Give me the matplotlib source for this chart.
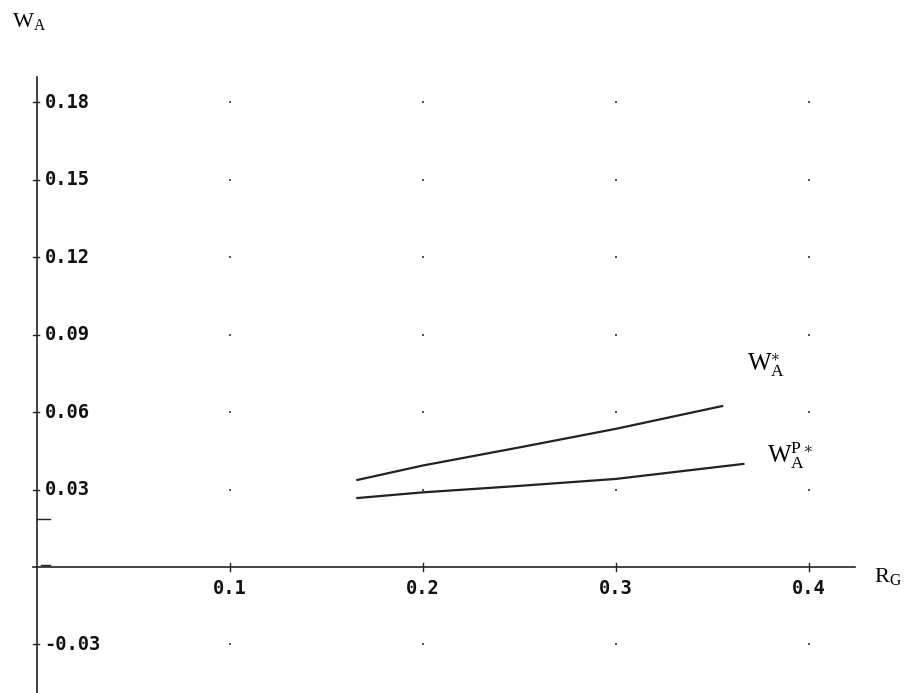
import numpy as np
import matplotlib
matplotlib.use("Agg")
import matplotlib.pyplot as plt

plt.rcParams['mathtext.fontset'] = 'custom'
plt.rcParams['mathtext.rm'] = 'Liberation Serif'
plt.rcParams['mathtext.it'] = 'Liberation Serif'

# data
rg_upper = [0.166, 0.20, 0.25, 0.30, 0.355]
wa_star = [0.0337, 0.0393, 0.0463, 0.0535, 0.0623]
rg_lower = [0.166, 0.20, 0.25, 0.30, 0.366]
wa_pstar = [0.0267, 0.0289, 0.0314, 0.0341, 0.0399]

x_ticks = [0.1, 0.2, 0.3, 0.4]
x_labels = ['0.1', '0.2', '0.3', '0.4']
y_ticks = [-0.03, 0.03, 0.06, 0.09, 0.12, 0.15, 0.18]
y_labels = ['-0.03', '0.03', '0.06', '0.09', '0.12', '0.15', '0.18']

fig = plt.figure(figsize=(9.13, 6.93), dpi=100)
ax = fig.add_axes([0, 0, 1, 1])
# pixel mapping: x=0 -> 37px, 0.1 per 193px ; y=0 -> 567px, 0.03 per 77.5px
ax.set_xlim(-37 / 1930, (913 - 37) / 1930)
ax.set_ylim(-126 / 2583.3, 567 / 2583.3)
ax.axis('off')

ink = '#222222'
# axes lines
ax.plot([-0.002, 0.424], [0, 0], color=ink, lw=1.2)
ax.plot([0, 0], [-0.05, 0.1898], color=ink, lw=1.2)

# ticks
for xt in x_ticks:
    ax.plot([xt, xt], [-0.0015, 0.0015], color=ink, lw=1.0)
for yt in y_ticks:
    ax.plot([-0.0022, 0.0012], [yt, yt], color=ink, lw=1.0)
# stray marks near the axis
ax.plot([0, 0.0065], [0.0185, 0.0185], color=ink, lw=1.0)
ax.plot([0.002, 0.0065], [0.0008, 0.0008], color=ink, lw=1.0)

# tick labels
for xt, lab in zip(x_ticks, x_labels):
    ax.text(xt, -0.0085, lab, ha='center', va='center', fontsize=13.5,
            family='DejaVu Sans Mono', weight='bold', color='#111111')
for yt, lab in zip(y_ticks, y_labels):
    ax.text(0.004, yt, lab, ha='left', va='center', fontsize=13.5,
            family='DejaVu Sans Mono', weight='bold', color='#111111')

# grid dots
gx, gy = np.meshgrid(x_ticks, y_ticks)
ax.scatter(gx.ravel(), gy.ravel(), s=1.5, color='#555555', marker='s', linewidths=0)

# curves
ax.plot(rg_upper, wa_star, color=ink, lw=1.6)
ax.plot(rg_lower, wa_pstar, color=ink, lw=1.6)

# labels
ax.text(-0.013, 0.2112, r'$\mathrm{W}_{\mathrm{A}}$', fontsize=16, ha='left', va='center')
ax.text(0.4335, -0.0037, r'$\mathrm{R}_{\mathrm{G}}$', fontsize=16, ha='left', va='center')
ax.text(0.368, 0.0780, r'$\mathrm{W}_{\mathrm{A}}^{\ast}$', fontsize=18, ha='left', va='center')
ax.text(0.378, 0.0433, r'$\mathrm{W}_{\mathrm{A}}^{\mathrm{P}\ast}$', fontsize=18, ha='left', va='center')

fig.savefig('out.png', dpi=100)
